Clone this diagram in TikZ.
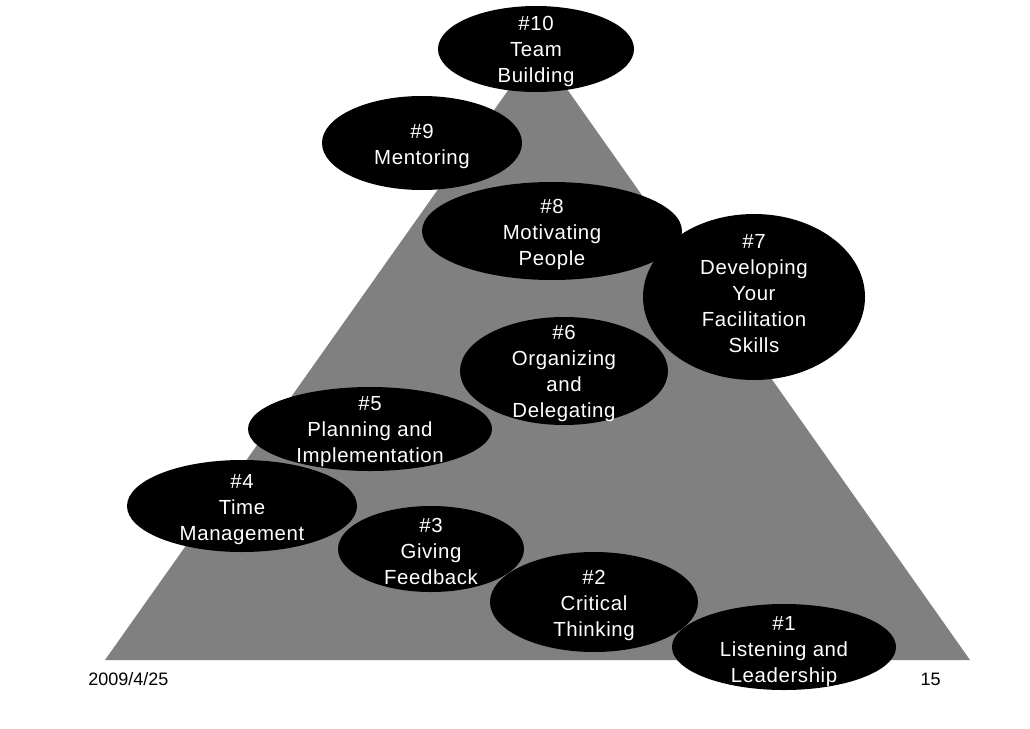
\documentclass[tikz,border=0pt]{standalone}
\usepackage{fontspec}
\setmainfont{Liberation Sans}
\newfontfamily\bubfont[LetterSpace=3]{Liberation Sans}
\usetikzlibrary{shapes.geometric}
\begin{document}
\begin{tikzpicture}[x=0.75pt,y=-0.75pt,
  bub/.style={ellipse,fill=black,inner sep=0pt},
  btxt/.style={text=white,align=center,inner sep=0pt,yshift=-2.2pt,
    font=\bubfont\fontsize{15.3}{19.5}\selectfont},
  foot/.style={text=black,inner sep=0pt,font=\fontsize{13.5}{15}\selectfont}]
\definecolor{tri}{RGB}{128,128,128}
\useasboundingbox[fill=white] (0,0) rectangle (1030,728);
\coordinate (apex) at (538,48);
\coordinate (bl) at (105,660);
\coordinate (br) at (970,660);
\fill[tri] (apex) -- (br) -- (bl) -- cycle;
\node[bub,minimum width=147pt,minimum height=64.5pt] (n10) at (536,49) {};
\node[bub,minimum width=150pt,minimum height=70.5pt] (n9) at (422,143) {};
\node[bub,minimum width=195pt,minimum height=73.5pt] (n8) at (552,231) {};
\node[bub,minimum width=166.5pt,minimum height=124.5pt] (n7) at (754,297) {};
\node[bub,minimum width=156pt,minimum height=81pt] (n6) at (564,371) {};
\node[bub,minimum width=183pt,minimum height=63pt] (n5) at (370,429) {};
\node[bub,minimum width=172.5pt,minimum height=69pt] (n4) at (242,506) {};
\node[bub,minimum width=139.5pt,minimum height=64.5pt] (n3) at (431,549) {};
\node[bub,minimum width=156pt,minimum height=75pt] (n2) at (594,602) {};
\node[bub,minimum width=168pt,minimum height=64.5pt] (n1) at (784,647) {};
\node[btxt] (t10) at (536,49) {\#10\\Team\\Building};
\node[btxt] (t9) at (422,144) {\#9\\Mentoring};
\node[btxt] (t8) at (552,232) {\#8\\Motivating\\People};
\node[btxt] (t7) at (754,291) {\#7\\Developing\\Your\\Facilitation\\Skills};
\node[btxt] (t6) at (564,371) {\#6\\Organizing\\and\\Delegating};
\node[btxt] (t5) at (370,429) {\#5\\Planning and\\Implementation};
\node[btxt] (t4) at (242,507) {\#4\\Time\\Management};
\node[btxt] (t3) at (431,549) {\#3\\Giving\\Feedback};
\node[btxt] (t2) at (594,603) {\#2\\Critical\\Thinking};
\node[btxt] (t1) at (784,649) {\#1\\Listening and\\Leadership};
\node[foot,anchor=west] (date) at (88,679) {2009/4/25};
\node[foot,anchor=east] (page) at (941,679) {15};
\end{tikzpicture}
\end{document}
